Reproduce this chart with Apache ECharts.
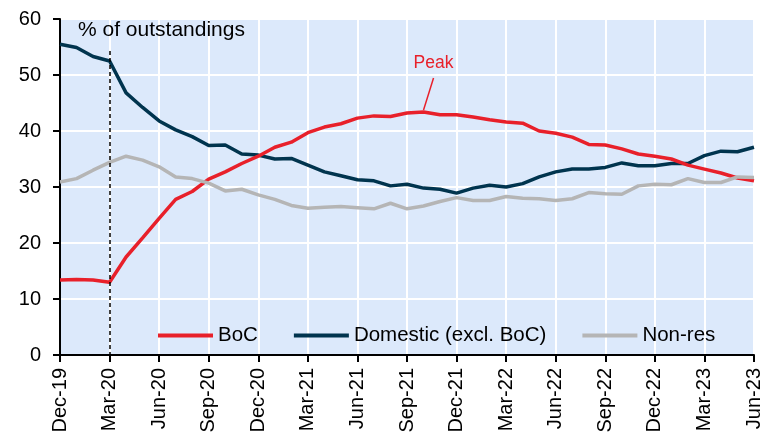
<!DOCTYPE html>
<html>
<head>
<meta charset="utf-8">
<script src="https://cdn.jsdelivr.net/npm/echarts@6/dist/echarts.min.js"></script>
<style>
  html, body { margin: 0; padding: 0; background: #fff; }
  #chart { width: 770px; height: 436px; }
</style>
</head>
<body>
<div id="chart"></div>
<script>
var months = ['Dec-19','Jan-20','Feb-20','Mar-20','Apr-20','May-20','Jun-20','Jul-20','Aug-20','Sep-20','Oct-20','Nov-20',
  'Dec-20','Jan-21','Feb-21','Mar-21','Apr-21','May-21','Jun-21','Jul-21','Aug-21','Sep-21','Oct-21','Nov-21',
  'Dec-21','Jan-22','Feb-22','Mar-22','Apr-22','May-22','Jun-22','Jul-22','Aug-22','Sep-22','Oct-22','Nov-22',
  'Dec-22','Jan-23','Feb-23','Mar-23','Apr-23','May-23','Jun-23'];

var boc = [13.4,13.5,13.4,13.0,17.5,20.9,24.4,27.8,29.2,31.4,32.7,34.2,
  35.5,37.1,38.0,39.7,40.7,41.3,42.3,42.7,42.6,43.2,43.4,42.9,
  42.9,42.5,42.0,41.6,41.4,40.0,39.6,38.9,37.6,37.5,36.8,35.9,
  35.5,35.0,33.9,33.2,32.5,31.6,31.1];

var domestic = [55.5,54.9,53.3,52.5,46.8,44.2,41.8,40.2,39.0,37.4,37.5,35.9,
  35.7,35.0,35.1,33.9,32.7,32.0,31.3,31.1,30.2,30.5,29.8,29.6,
  28.9,29.8,30.3,30.0,30.6,31.8,32.7,33.2,33.2,33.5,34.3,33.8,
  33.8,34.2,34.2,35.6,36.4,36.3,37.1];

var nonres = [30.9,31.5,33.0,34.4,35.5,34.8,33.6,31.8,31.5,30.7,29.3,29.6,
  28.6,27.8,26.7,26.2,26.4,26.5,26.3,26.1,27.1,26.1,26.6,27.4,
  28.1,27.6,27.6,28.3,28.0,27.9,27.6,27.9,29.0,28.8,28.7,30.2,
  30.5,30.4,31.5,30.8,30.8,31.8,31.7];

var yTicks = [0, 60, 10];   // min, max, interval
var eventMonth = 'Mar-20';
var peakMonth = 'Oct-21';

var chart = echarts.init(document.getElementById('chart'));
var font = 'Liberation Sans, Arial, sans-serif';

chart.setOption({
  animation: false,
  textStyle: { fontFamily: font },
  grid: {
    left: 60, right: 16, top: 19, bottom: 81,
    show: true, backgroundColor: '#dce9fb', borderWidth: 0
  },
  legend: {
    left: 153, top: 320,
    itemWidth: 55, itemHeight: 4, itemGap: 36,
    icon: 'rect',
    textStyle: { fontSize: 20.5, color: '#000', fontFamily: font },
    data: ['BoC', 'Domestic (excl. BoC)', 'Non-res']
  },
  xAxis: {
    type: 'category',
    data: months,
    boundaryGap: false,
    axisLine: { lineStyle: { color: '#000', width: 2 } },
    axisTick: { interval: 2, length: 7, lineStyle: { color: '#000', width: 2 } },
    axisLabel: { interval: 2, rotate: 90, fontSize: 20, color: '#000', margin: 13, fontFamily: font },
    splitLine: { show: true, interval: 2, lineStyle: { color: '#fff', width: 2 } }
  },
  yAxis: {
    type: 'value',
    min: yTicks[0], max: yTicks[1], interval: yTicks[2],
    axisLine: { show: true, lineStyle: { color: '#000', width: 2 } },
    axisTick: { show: true, length: 7, lineStyle: { color: '#000', width: 2 } },
    axisLabel: { fontSize: 20, color: '#000', margin: 19, fontFamily: font },
    splitLine: { lineStyle: { color: '#fff', width: 2 } }
  },
  series: [
    {
      name: 'BoC', type: 'line', data: boc, symbol: 'none',
      lineStyle: { color: '#e8202a', width: 3.5 }, itemStyle: { color: '#e8202a' },
      z: 3
    },
    {
      name: 'Domestic (excl. BoC)', type: 'line', data: domestic, symbol: 'none',
      lineStyle: { color: '#00344e', width: 3.5 }, itemStyle: { color: '#00344e' },
      z: 2,
      markLine: {
        silent: true, symbol: 'none', label: { show: false },
        lineStyle: { color: '#000', type: [4, 3], width: 1.5 },
        data: [[{ coord: [eventMonth, 54.3] }, { coord: [eventMonth, 0] }]]
      }
    },
    {
      name: 'Non-res', type: 'line', data: nonres, symbol: 'none',
      lineStyle: { color: '#b5b5b5', width: 3.5 }, itemStyle: { color: '#b5b5b5' },
      z: 4
    }
  ]
});

// annotations placed from data coordinates
var peakIdx = months.indexOf(peakMonth);
var pk = chart.convertToPixel({ gridIndex: 0 }, [peakIdx, boc[peakIdx]]);
var topLeft = chart.convertToPixel({ gridIndex: 0 }, [0, 60]);
chart.setOption({
  graphic: [
    {
      type: 'text', left: topLeft[0] + 18, top: topLeft[1] + 1,
      style: { text: '% of outstandings', fontSize: 21, fill: '#000', fontFamily: font }
    },
    {
      type: 'line', shape: { x1: pk[0], y1: pk[1] - 2, x2: pk[0] + 10, y2: pk[1] - 34 },
      style: { stroke: '#e8202a', lineWidth: 1.5 }
    },
    {
      type: 'text', left: pk[0] - 10, top: pk[1] - 58,
      style: { text: 'Peak', fontSize: 17.5, fill: '#e8202a', fontFamily: font }
    }
  ]
});
</script>
</body>
</html>
